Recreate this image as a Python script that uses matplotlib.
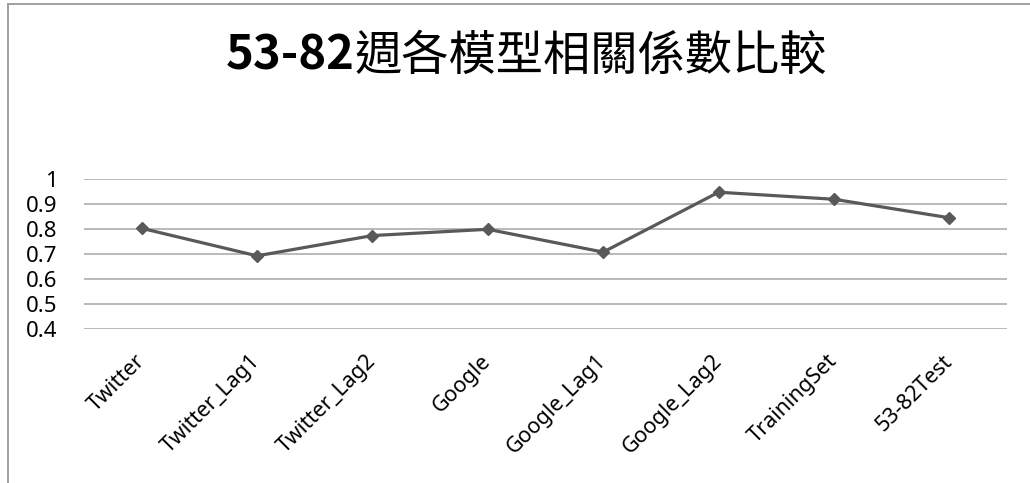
import matplotlib
matplotlib.use("Agg")
import matplotlib.pyplot as plt
from matplotlib.lines import Line2D

# data
models = ["Twitter", "Twitter_Lag1", "Twitter_Lag2", "Google",
          "Google_Lag1", "Google_Lag2", "TrainingSet", "53-82Test"]
corr = [0.802, 0.692, 0.773, 0.798, 0.707, 0.946, 0.918, 0.844]
y_ticks = [0.4, 0.5, 0.6, 0.7, 0.8, 0.9, 1.0]
y_tick_labels = ["0.4", "0.5", "0.6", "0.7", "0.8", "0.9", "1"]
title_bold = "53-82"
title_rest = "週各模型相關係數比較"

W, H = 1030, 483
LINE_COLOR = "#595959"
GRID_COLOR = "#a6a6a6"
TICK_FONT = ["Noto Sans", "DejaVu Sans"]
TITLE_FONT = ["Noto Sans CJK TC", "DejaVu Sans"]

fig = plt.figure(figsize=(W / 100, H / 100), dpi=100)
fig.patch.set_facecolor("white")

# chart area border (left and top only visible in the crop)
fig.add_artist(Line2D([7.5 / W, 7.5 / W], [0, 1 - 3.5 / H], transform=fig.transFigure,
                      color="#a0a0a0", lw=1.4))
fig.add_artist(Line2D([7.5 / W, 1], [1 - 3.5 / H, 1 - 3.5 / H], transform=fig.transFigure,
                      color="#a0a0a0", lw=1.4))

ax = fig.add_axes([84 / W, 1 - 329 / H, 923 / W, 150.3 / H])
x = list(range(len(models)))
ax.plot(x, corr, color=LINE_COLOR, lw=2.3, marker="D", ms=6.5,
        markerfacecolor=LINE_COLOR, markeredgecolor=LINE_COLOR, zorder=3)

ax.set_xlim(-0.5, len(models) - 0.5)
ax.set_ylim(0.4, 1.0)
ax.set_yticks(y_ticks)
ax.set_yticklabels(y_tick_labels, family=TICK_FONT, fontsize=16)
ax.yaxis.grid(True, color=GRID_COLOR, lw=1.1)
ax.set_axisbelow(True)
for s in ax.spines.values():
    s.set_visible(False)
ax.tick_params(axis="both", length=0)
ax.tick_params(axis="y", pad=19)

ax.set_xticks(x)
ax.set_xticklabels(models, family=TICK_FONT, fontsize=15.5, rotation=45,
                   ha="right", va="center", rotation_mode="anchor")
ax.tick_params(axis="x", pad=21)

# title: bold digits + regular CJK text, centred as one line
yb = 1 - 70 / H
t1 = fig.text(0, yb, title_bold, family=TITLE_FONT, weight="bold", fontsize=34, va="baseline")
t2 = fig.text(0, yb, title_rest, family=TITLE_FONT, fontsize=34, va="baseline")
r = fig.canvas.get_renderer()
w1 = t1.get_window_extent(r).width
w2 = t2.get_window_extent(r).width
x0 = 526 - (w1 + w2) / 2
t1.set_x(x0 / W)
t2.set_x((x0 + w1) / W)

fig.savefig("out.png", dpi=100)
